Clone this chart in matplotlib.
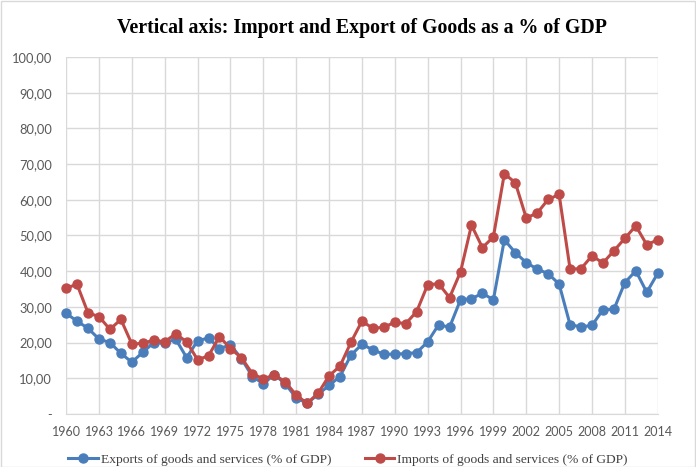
import matplotlib.pyplot as plt
import numpy as np

years = list(range(1960, 2015))

exports = [28.2, 26.0, 24.0, 21.0, 20.0, 17.0, 14.5, 17.3, 20.0, 19.8,
           21.0, 15.8, 20.5, 21.3, 18.3, 19.4, 15.5, 10.5, 8.5, 11.0,
           8.5, 4.5, 3.0, 5.5, 8.0, 10.5, 16.5, 19.5, 18.0, 16.7,
           16.8, 16.9, 17.2, 20.2, 25.0, 24.3, 32.0, 32.3, 33.8, 32.0,
           48.8, 45.2, 42.4, 40.6, 39.3, 36.4, 25.0, 24.4, 24.8, 29.2,
           29.3, 36.8, 40.1, 34.1, 39.4]

imports = [35.3, 36.3, 28.3, 27.3, 23.7, 26.5, 19.6, 19.8, 20.7, 20.2,
           22.5, 20.2, 15.2, 16.3, 21.7, 18.3, 15.8, 11.3, 9.8, 11.0,
           9.0, 5.3, 3.0, 5.8, 10.7, 13.4, 20.1, 26.0, 24.0, 24.3,
           25.7, 25.3, 28.7, 36.2, 36.5, 32.6, 39.8, 52.9, 46.6, 49.6,
           67.3, 64.8, 54.9, 56.3, 60.1, 61.5, 40.6, 40.7, 44.3, 42.3,
           45.7, 49.2, 52.7, 47.4, 48.8]

x_ticks = list(range(1960, 2015, 3))
y_ticks = list(range(0, 101, 10))

fig = plt.figure(figsize=(6.96, 4.67), dpi=100)
ax = fig.add_axes([0.095, 0.1135, 0.85, 0.7645])

ax.plot(years, exports, color="#4A7EBB", lw=2.2, marker="o", ms=6.5,
        label="Exports of goods and services (% of GDP)", zorder=3, clip_on=False)
ax.plot(years, imports, color="#BE4B48", lw=2.2, marker="o", ms=6.5,
        label="Imports of goods and services (% of GDP)", zorder=3, clip_on=False)

ax.set_xlim(1960, 2014)
ax.set_ylim(0, 100)
ax.set_xticks(x_ticks)
ax.set_yticks(y_ticks)
ax.set_yticklabels(["-"] + ["%d,00" % v for v in y_ticks[1:]])
ax.grid(True, color="#D9D9D9", lw=1)
ax.set_axisbelow(True)
for s in ["top", "right", "left"]:
    ax.spines[s].set_visible(False)
ax.spines["bottom"].set_color("#D9D9D9")
ax.tick_params(axis="x", length=0, labelsize=9, labelcolor="#595959", pad=9)
ax.tick_params(axis="y", length=0, labelsize=9.3, labelcolor="#595959", pad=10)
for lab in ax.get_xticklabels() + ax.get_yticklabels():
    lab.set_family("Lato")

ax.set_title("Vertical axis: Import and Export of Goods as a % of GDP",
             y=1.045, fontsize=14.3, fontweight="bold", family="Liberation Serif")

fig.legend(loc="center", bbox_to_anchor=(0.5, 0.016), ncol=2, frameon=False,
           prop={"family": "Liberation Serif", "size": 9.7}, columnspacing=2.5,
           handlelength=2.2, handletextpad=0.2, labelcolor="#404040",
           borderaxespad=0, borderpad=0)

fig.patches.append(plt.Rectangle((0.001, 0.001), 0.997, 0.997, transform=fig.transFigure,
                                 fill=False, edgecolor="#D9D9D9", lw=1))

fig.savefig("out.png", dpi=100)
